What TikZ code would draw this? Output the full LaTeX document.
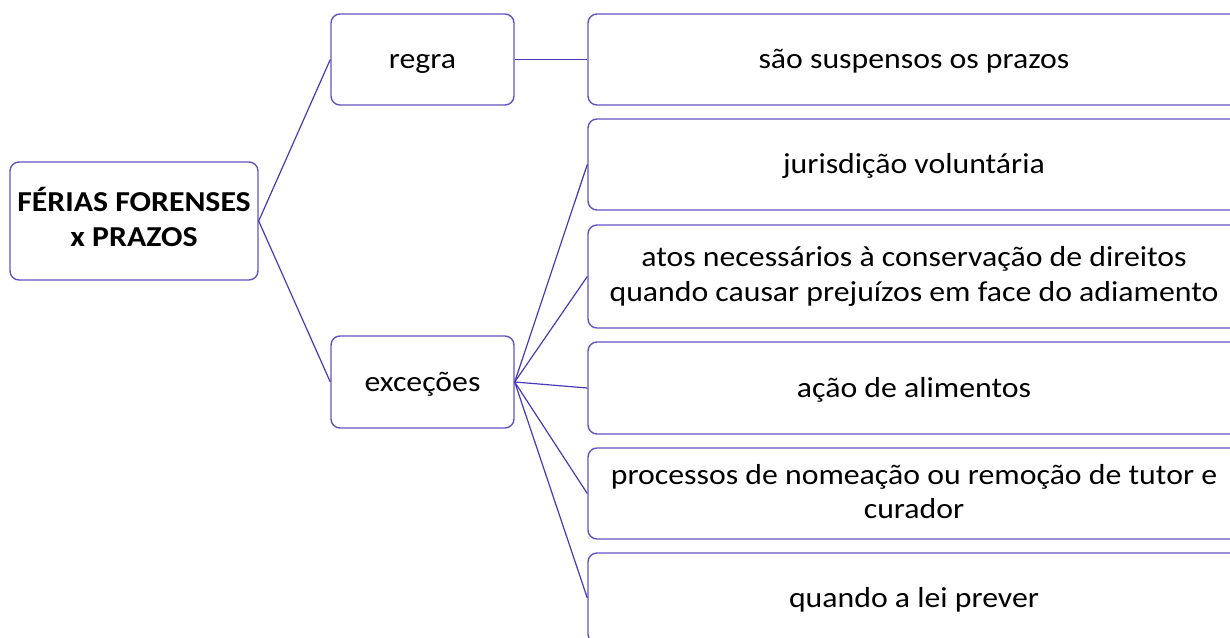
\documentclass[tikz,border=0pt]{standalone}
\usepackage{fontspec}
\setmainfont{Carlito}[FakeStretch=1.1]
\definecolor{lin}{RGB}{72,58,182}
\definecolor{brd}{RGB}{98,84,190}
\newcommand{\dpad}[1]{\rule[-#1]{0pt}{#1}}
\tikzset{
  box/.style={draw=brd, line width=1.4bp, rounded corners=9bp, inner sep=0pt, align=center, font=\fontsize{29}{35}\selectfont},
  oneline/.style={text height=26bp, text depth=7.5bp},
  conn/.style={draw=lin, line width=1.2bp}
}
\begin{document}
\begin{tikzpicture}[x=1bp,y=-1bp]
\useasboundingbox (0,0) rectangle (1230,638);
\clip (0,0) rectangle (1230,638);
\node[box, minimum width=248bp, minimum height=118bp, font=\fontsize{29}{35}\selectfont\bfseries] (root) at (134,221) {FÉRIAS FORENSES\\x PRAZOS\dpad{8bp}};
\node[box, oneline, minimum width=183bp, minimum height=91bp] (regra) at (422.5,59.5) {regra};
\node[box, oneline, minimum width=183bp, minimum height=92bp] (exc) at (422.5,382) {exceções};
\node[box, oneline, minimum width=652bp, minimum height=91bp] (b1) at (914,59.5) {são suspensos os prazos};
\node[box, oneline, minimum width=652bp, minimum height=91bp] (b2) at (914,164.5) {jurisdição voluntária};
\node[box, minimum width=652bp, minimum height=103bp] (b3) at (914,276.5) {atos necessários à conservação de direitos\\quando causar prejuízos em face do adiamento};
\node[box, oneline, minimum width=652bp, minimum height=92bp] (b4) at (914,388) {ação de alimentos};
\node[box, minimum width=652bp, minimum height=91bp] (b5) at (914,493.5) {processos de nomeação ou remoção de tutor e\\curador\dpad{4bp}};
\node[box, oneline, minimum width=652bp, minimum height=90bp] (b6) at (914,598) {quando a lei prever};
\draw[conn] (root.east) -- (regra.west);
\draw[conn] (root.east) -- (exc.west);
\draw[conn] (regra.east) -- (b1.west);
\foreach \b in {b2,b3,b4,b5,b6}{
  \draw[conn] (exc.east) -- (\b.west);
}
\end{tikzpicture}
\end{document}
